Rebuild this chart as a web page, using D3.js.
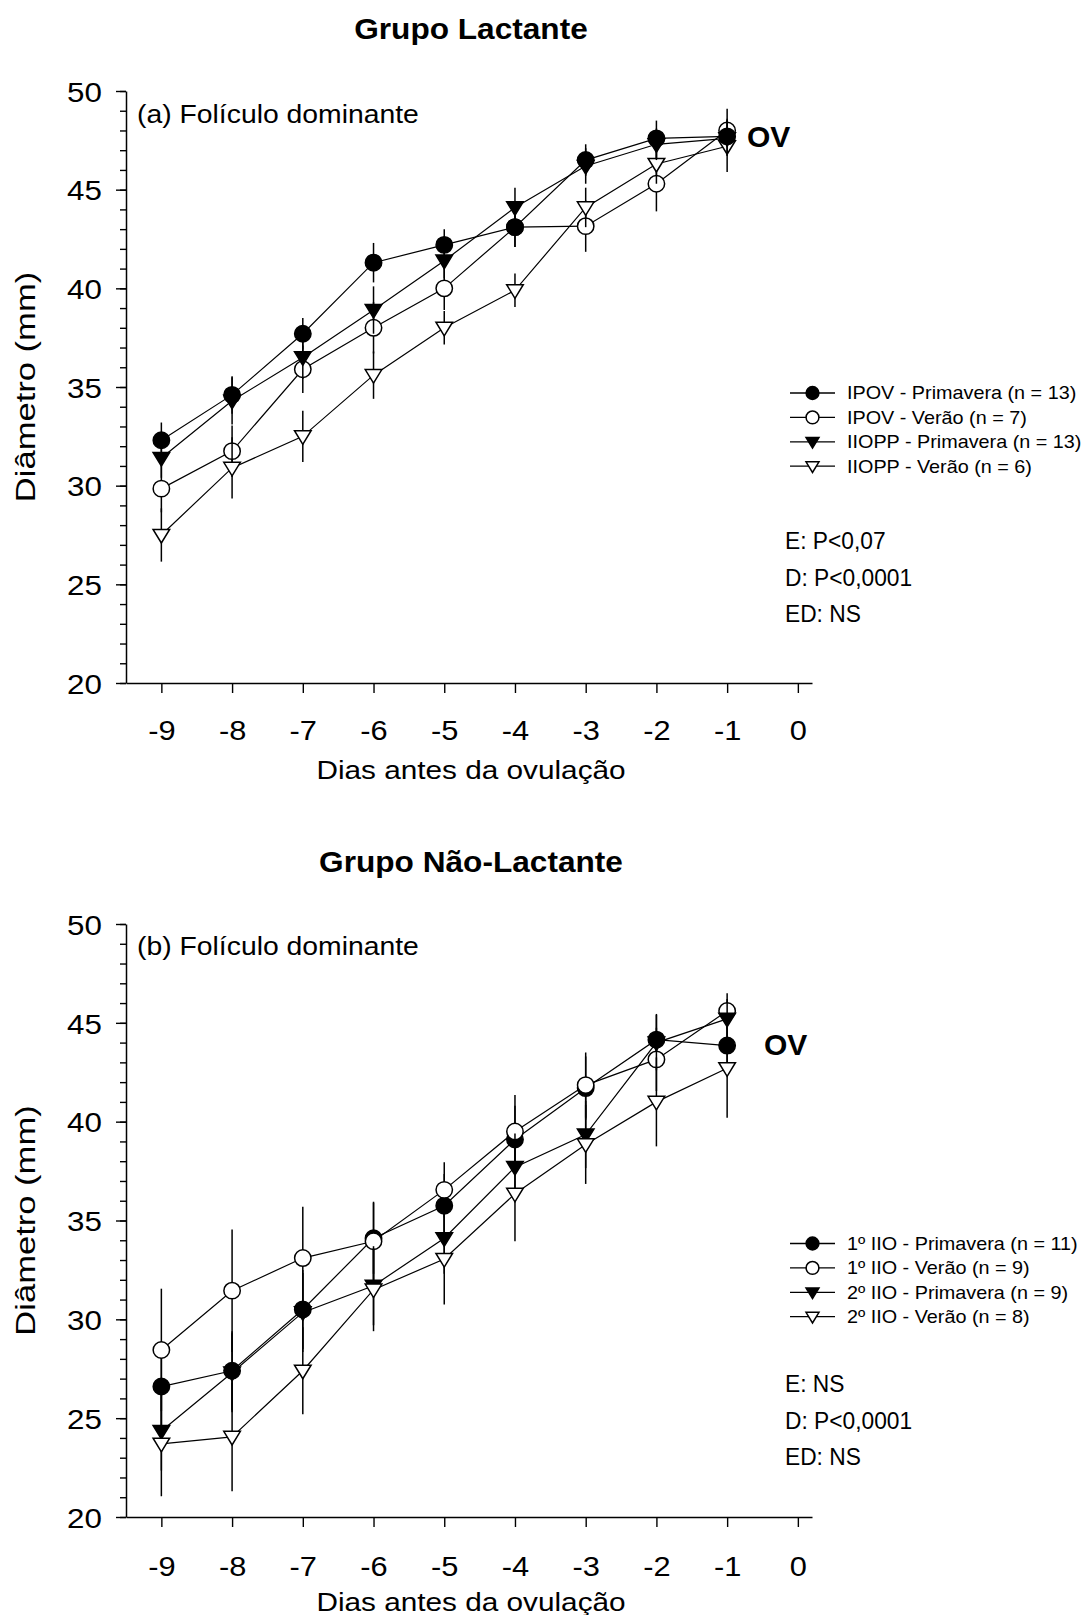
<!DOCTYPE html>
<html><head><meta charset="utf-8">
<script src="https://cdn.jsdelivr.net/npm/d3@7"></script>
<style>body{margin:0;background:#fff}svg{display:block}text{font-family:"Liberation Sans",Arial,sans-serif;fill:#000}</style>
</head><body>
<script>
// ---------- data ----------
const days = [-9,-8,-7,-6,-5,-4,-3,-2,-1];
const xTicks = [-9,-8,-7,-6,-5,-4,-3,-2,-1,0];
const yTicks = [20,25,30,35,40,45,50];
const yMinor = d3.range(20,51,1);

// Panel (a) Grupo Lactante
const lacNames = ["IPOV - Primavera (n = 13)","IPOV - Verão (n = 7)","IIOPP - Primavera (n = 13)","IIOPP - Verão (n = 6)"];
const lacIpovPrim   = [32.3,34.6,37.7,41.3,42.2,43.1,46.5,47.6,47.7];
const lacIpovPrimSE = [0.9,0.95,0.8,1.0,0.8,1.0,0.8,0.9,0.9];
const lacIpovVer    = [29.85,31.75,35.9,38.0,40.0,43.1,43.15,45.3,48.0];
const lacIpovVerSE  = [1.2,1.3,1.2,1.3,1.1,1.0,1.3,1.4,1.1];
const lacIioppPrim  = [31.4,34.3,36.5,38.9,41.4,44.1,46.2,47.3,47.6];
const lacIioppPrimSE= [1.0,1.2,1.1,1.2,0.9,1.0,0.9,0.8,0.9];
const lacIioppVer   = [27.5,30.9,32.5,35.6,38.0,39.9,44.1,46.3,47.2];
const lacIioppVerSE = [1.35,1.55,1.3,1.2,0.85,0.85,1.0,1.0,1.3];
const lacStats = ["E: P<0,07","D: P<0,0001","ED: NS"];

// Panel (b) Grupo Não-Lactante
const nlNames = ["1º IIO - Primavera (n = 11)","1º IIO - Verão (n = 9)","2º IIO - Primavera (n = 9)","2º IIO - Verão (n = 8)"];
const nl1Prim   = [26.6,27.4,30.5,34.1,35.75,39.1,41.7,44.15,43.85];
const nl1PrimSE = [2.0,2.0,2.0,1.8,1.6,1.7,1.6,1.3,1.0];
const nl1Ver    = [28.45,31.45,33.1,33.95,36.55,39.5,41.85,43.15,45.6];
const nl1VerSE  = [3.1,3.1,2.6,2.0,1.4,1.85,1.65,1.6,0.9];
const nl2Prim   = [24.35,27.3,30.35,31.7,34.1,37.7,39.35,44.0,45.2];
const nl2PrimSE = [2.0,2.0,2.0,2.0,1.8,1.7,1.7,1.4,1.0];
const nl2Ver    = [23.7,24.05,27.4,31.5,33.05,36.35,38.85,41.0,42.7];
const nl2VerSE  = [2.65,2.75,2.2,2.1,2.3,2.4,2.0,2.25,2.5];
const nlStats = ["E: NS","D: P<0,0001","ED: NS"];

const symbols = ["circleFilled","circleOpen","triFilled","triOpen"];

// ---------- drawing ----------
const W = 1083, H = 1615;
const FONT = '"Liberation Sans",Arial,sans-serif';
const svg = d3.select("body").append("svg").attr("width",W).attr("height",H);

function txt(g, x, y, s, o={}) {
  return g.append("text")
    .attr("transform", `translate(${x},${y}) scale(${o.sx||1},1)`)
    .attr("text-anchor", o.anchor||"start")
    .style("font-size", (o.size||20)+"px")
    .style("font-weight", o.weight||"normal")
    .text(s);
}

function marker(g, type, cx, cy, k=1) {
  if (type.startsWith("circle")) {
    g.append("circle").attr("cx",cx).attr("cy",cy).attr("r",8.2*k)
      .attr("fill", type==="circleFilled" ? "#000" : "#fff")
      .attr("stroke","#000").attr("stroke-width",1.5);
  } else {
    const w=8.3*k, t=5.6*k, b=8*k;
    g.append("path").attr("d",`M${cx-w},${cy-t}L${cx+w},${cy-t}L${cx},${cy+b}Z`)
      .attr("fill", type==="triFilled" ? "#000" : "#fff")
      .attr("stroke","#000").attr("stroke-width",1.5).attr("stroke-linejoin","miter");
  }
}

function panel(cfg) {
  const g = svg.append("g");
  const x = d3.scaleLinear().domain([-9.5,0.2]).range([126,812]);
  const y = d3.scaleLinear().domain([20,50]).range([cfg.yb, cfg.yt]);

  // title
  txt(g, 471, cfg.titleY, cfg.title, {size:29, weight:"bold", anchor:"middle", sx:1.09});

  // minor y ticks
  g.append("g").attr("transform","translate(126,0)")
    .call(d3.axisLeft(y).tickValues(yMinor).tickSize(6).tickFormat(""))
    .call(a=>a.select(".domain").remove())
    .selectAll("line").attr("stroke-width",1.4);
  // major y axis
  const ya = g.append("g").attr("transform","translate(126,0)")
    .call(d3.axisLeft(y).tickValues(yTicks).tickSize(10).tickSizeOuter(0));
  ya.select(".domain").attr("stroke-width",1.5);
  ya.selectAll("line").attr("stroke-width",1.4);
  ya.selectAll("text").attr("x",null).attr("dy",null).attr("fill","#000")
    .style("font-size","28px").style("font-family",FONT)
    .attr("transform","translate(-24,10.3) scale(1.12,1)");

  // x axis
  const xa = g.append("g").attr("transform",`translate(0,${cfg.yb})`)
    .call(d3.axisBottom(x).tickValues(xTicks).tickSize(10).tickSizeOuter(0).tickFormat(d3.format("d")));
  xa.select(".domain").attr("stroke-width",1.5);
  xa.selectAll("line").attr("stroke-width",1.4);
  xa.selectAll("text").attr("y",null).attr("dy",null).attr("fill","#000")
    .style("font-size","28px").style("font-family",FONT)
    .attr("transform",`translate(0,${cfg.tickLabY-cfg.yb}) scale(1.1,1)`)
    .text(d=>String(d));

  // axis titles
  txt(g, 471, cfg.xTitleY, "Dias antes da ovulação", {size:25, anchor:"middle", sx:1.19});
  g.append("text")
    .attr("transform",`translate(34.5,${(cfg.yb+cfg.yt)/2}) rotate(-90) scale(1.28,1)`)
    .attr("text-anchor","middle").style("font-size","27px").text("Diâmetro (mm)");

  // panel label
  txt(g, 137, cfg.labY, cfg.label, {size:26, sx:1.09});
  // OV
  txt(g, cfg.ovX, cfg.ovY, "OV", {size:30, weight:"bold"});

  // series (drawn in the panel's stacking order)
  const line = d3.line().x(d=>x(d.d)).y(d=>y(d.v));
  cfg.order.forEach(i=>{
    const s = cfg.series[i];
    const sg = g.append("g");
    const pts = days.map((d,j)=>({d, v:s.v[j], e:s.e[j]}));
    sg.selectAll("line.err").data(pts).enter().append("line")
      .attr("x1",p=>x(p.d)).attr("x2",p=>x(p.d))
      .attr("y1",p=>y(p.v+p.e)).attr("y2",p=>y(p.v-p.e))
      .attr("stroke","#000").attr("stroke-width",1.5);
    sg.append("path").attr("d",line(pts)).attr("fill","none")
      .attr("stroke","#000").attr("stroke-width",1.2);
    pts.forEach(p=>marker(sg, symbols[i], x(p.d), y(p.v)));
  });

  // legend
  cfg.names.forEach((n,i)=>{
    const ly = cfg.legY + i*cfg.legStep;
    g.append("line").attr("x1",790).attr("x2",835).attr("y1",ly).attr("y2",ly)
      .attr("stroke","#000").attr("stroke-width",1.3);
    marker(g, symbols[i], 812.5, ly, 0.78);
    txt(g, 847, ly+6.3, n, {size:18, sx:1.1});
  });
  cfg.stats.forEach((s,i)=>{
    txt(g, 785, cfg.statY + i*cfg.statStep, s, {size:23, sx:0.99});
  });
}

panel({
  title:"Grupo Lactante", titleY:38.5, yt:91, yb:683, tickLabY:740, xTitleY:779,
  label:"(a) Folículo dominante", labY:123, ovX:747, ovY:147,
  series:[{v:lacIpovPrim,e:lacIpovPrimSE},{v:lacIpovVer,e:lacIpovVerSE},{v:lacIioppPrim,e:lacIioppPrimSE},{v:lacIioppVer,e:lacIioppVerSE}],
  order:[1,3,0,2],
  names:lacNames, legY:393, legStep:24.4, stats:lacStats, statY:549, statStep:36.5
});
panel({
  title:"Grupo Não-Lactante", titleY:871.5, yt:924, yb:1517, tickLabY:1576, xTitleY:1611,
  label:"(b) Folículo dominante", labY:955, ovX:764, ovY:1055,
  series:[{v:nl1Prim,e:nl1PrimSE},{v:nl1Ver,e:nl1VerSE},{v:nl2Prim,e:nl2PrimSE},{v:nl2Ver,e:nl2VerSE}],
  order:[0,1,2,3],
  names:nlNames, legY:1243.5, legStep:24.4, stats:nlStats, statY:1392, statStep:36.5
});
</script>
</body></html>
